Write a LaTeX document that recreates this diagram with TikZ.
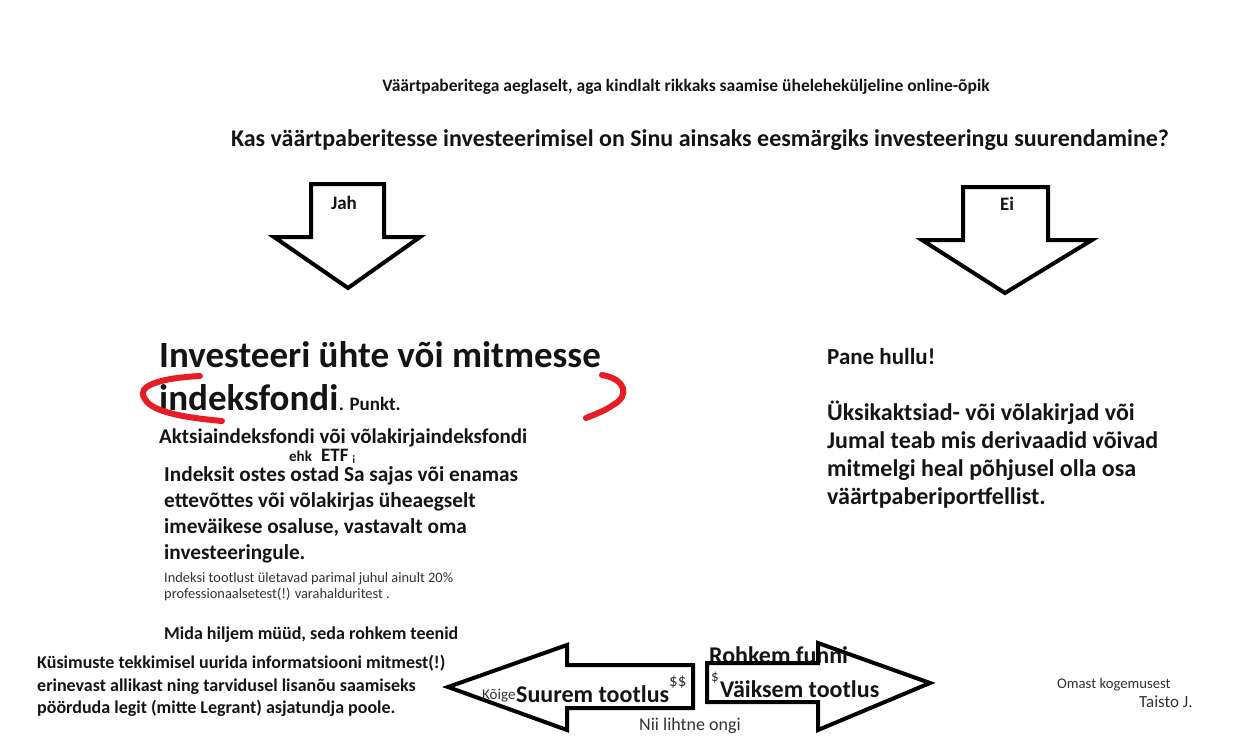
\documentclass[tikz,border=0pt]{standalone}
\usepackage{fontspec}
\setmainfont{Carlito}
\definecolor{ink}{RGB}{20,20,20}
\definecolor{soft}{RGB}{50,50,50}
\definecolor{marker}{RGB}{232,28,36}
\begin{document}
\begin{tikzpicture}[x=1pt,y=-1pt,
  txt/.style={anchor=base west,inner sep=0pt,text=ink,font=\bfseries},
  thin/.style={anchor=base west,inner sep=0pt,text=soft},
  parf/.style={txt,font=\bfseries\fontsize{21.3}{26}\selectfont},
  smallf/.style={thin,font=\fontsize{14.4}{16}\selectfont},
  kysf/.style={txt,font=\bfseries\fontsize{18}{22}\selectfont},
  uksf/.style={txt,font=\bfseries\fontsize{24}{28}\selectfont},
  bigarrow/.style={draw=black,line width=4pt,line join=miter,fill=white},
  redmark/.style={draw=marker,line width=6pt,line cap=round}]
\useasboundingbox (0,0) rectangle (1252,739);

% titles
\node[txt,anchor=base,font=\bfseries\fontsize{17.5}{20}\selectfont] (t1) at (686,91) {Väärtpaberitega aeglaselt, aga kindlalt rikkaks saamise üheleheküljeline online-õpik};
\node[txt,anchor=base,font=\bfseries\fontsize{24}{28}\selectfont] (t2) at (700,146) {Kas väärtpaberitesse investeerimisel on Sinu ainsaks eesmärgiks investeeringu suurendamine?};

% down arrows
\draw[bigarrow] (311,184) -- (384,184) -- (384,237) -- (420,237) -- (348,288) -- (274,237) -- (311,237) -- cycle;
\draw[bigarrow] (963,187) -- (1048,187) -- (1048,240) -- (1092,240) -- (1005,293) -- (922,240) -- (963,240) -- cycle;
\node[txt,anchor=base,font=\bfseries\fontsize{19}{22}\selectfont] (jah) at (344,209) {Jah};
\node[txt,anchor=base,font=\bfseries\fontsize{19}{22}\selectfont] (ei) at (1007,210) {Ei};

% left column
\node[txt,font=\bfseries\fontsize{37}{42}\selectfont] (inv) at (159,367) {Investeeri ühte või mitmesse};
\node[txt,font=\bfseries\fontsize{37}{42}\selectfont] (idx) at (159,410) {indeksfondi};
\node[txt,anchor=base west,font=\bfseries\fontsize{19}{22}\selectfont] (pk) at (idx.base east) {. Punkt.};
\draw[redmark] (200,376) .. controls (160,378) and (135,386) .. (145,399) .. controls (152,413) and (190,418) .. (222,421);
\draw[redmark] (602,375) .. controls (626,379) and (630,396) .. (613,405) .. controls (605,411) and (593,415) .. (586,418);

\node[txt,font=\bfseries\fontsize{21}{24}\selectfont] (akt) at (159,443) {Aktsiaindeksfondi või võlakirjaindeksfondi};
\node[txt,font=\bfseries\fontsize{15}{17}\selectfont] (ehk) at (289,461) {ehk};
\node[txt,font=\bfseries\fontsize{19}{22}\selectfont] (etf) at (321,461) {ETF\,{\fontsize{12}{14}\selectfont ¡}};

\node[parf] (par1) at (164,481) {Indeksit ostes ostad Sa sajas või enamas};
\node[parf] (par2) at (164,507) {ettevõttes või võlakirjas üheaegselt};
\node[parf] (par3) at (164,533) {imeväikese osaluse, vastavalt oma};
\node[parf] (par4) at (164,559) {investeeringule.};
\node[smallf] (tl1) at (164,582) {Indeksi tootlust ületavad parimal juhul ainult 20\%};
\node[smallf] (tl2) at (164,598) {professionaalsetest(!) varahalduritest .};
\node[txt,font=\bfseries\fontsize{18}{21}\selectfont] (mida) at (164,639) {Mida hiljem müüd, seda rohkem teenid};
\node[kysf] (kys1) at (37,668) {Küsimuste tekkimisel uurida informatsiooni mitmest(!)};
\node[kysf] (kys2) at (37,691) {erinevast allikast ning tarvidusel lisanõu saamiseks};
\node[kysf] (kys3) at (37,713) {pöörduda legit (mitte Legrant) asjatundja poole.};

% right column
\node[txt,font=\bfseries\fontsize{23}{26}\selectfont] (pane) at (827,364) {Pane hullu!};
\node[uksf] (uks1) at (827,420) {Üksikaktsiad- või võlakirjad või};
\node[uksf] (uks2) at (827,448) {Jumal teab mis derivaadid võivad};
\node[uksf] (uks3) at (827,476) {mitmelgi heal põhjusel olla osa};
\node[uksf] (uks4) at (827,504) {väärtpaberiportfellist.};

% bottom arrows
\node[txt,font=\bfseries\fontsize{24}{28}\selectfont] (funni) at (709,663) {Rohkem funni};
\draw[bigarrow] (448,687) -- (567,645) -- (567,665) -- (693,665) -- (693,708) -- (567,708) -- (567,730) -- cycle;
\draw[bigarrow,fill=none] (707,663) -- (818,663) -- (818,643) -- (930,683) -- (818,730) -- (818,702) -- (707,702) -- cycle;
\node[thin,font=\fontsize{15}{17}\selectfont] (koige) at (482,699) {Kõige};
\node[txt,font=\bfseries\fontsize{24}{28}\selectfont] (suur) at (516,702) {Suurem tootlus};
\node[thin,font=\fontsize{17}{19}\selectfont] (dd) at (669,686) {\$\$};
\node[thin,font=\fontsize{15}{17}\selectfont] (d) at (711,681) {\$};
\node[txt,font=\bfseries\fontsize{24}{28}\selectfont] (vaik) at (720,697) {Väiksem tootlus};
\node[thin,anchor=base,font=\fontsize{18}{20}\selectfont] (lihtne) at (690,730) {Nii lihtne ongi};

\node[thin,font=\fontsize{14.7}{17}\selectfont] (oma) at (1057,688) {Omast kogemusest};
\node[thin,font=\fontsize{17}{19}\selectfont] (taisto) at (1139,707) {Taisto J.};
\end{tikzpicture}
\end{document}
